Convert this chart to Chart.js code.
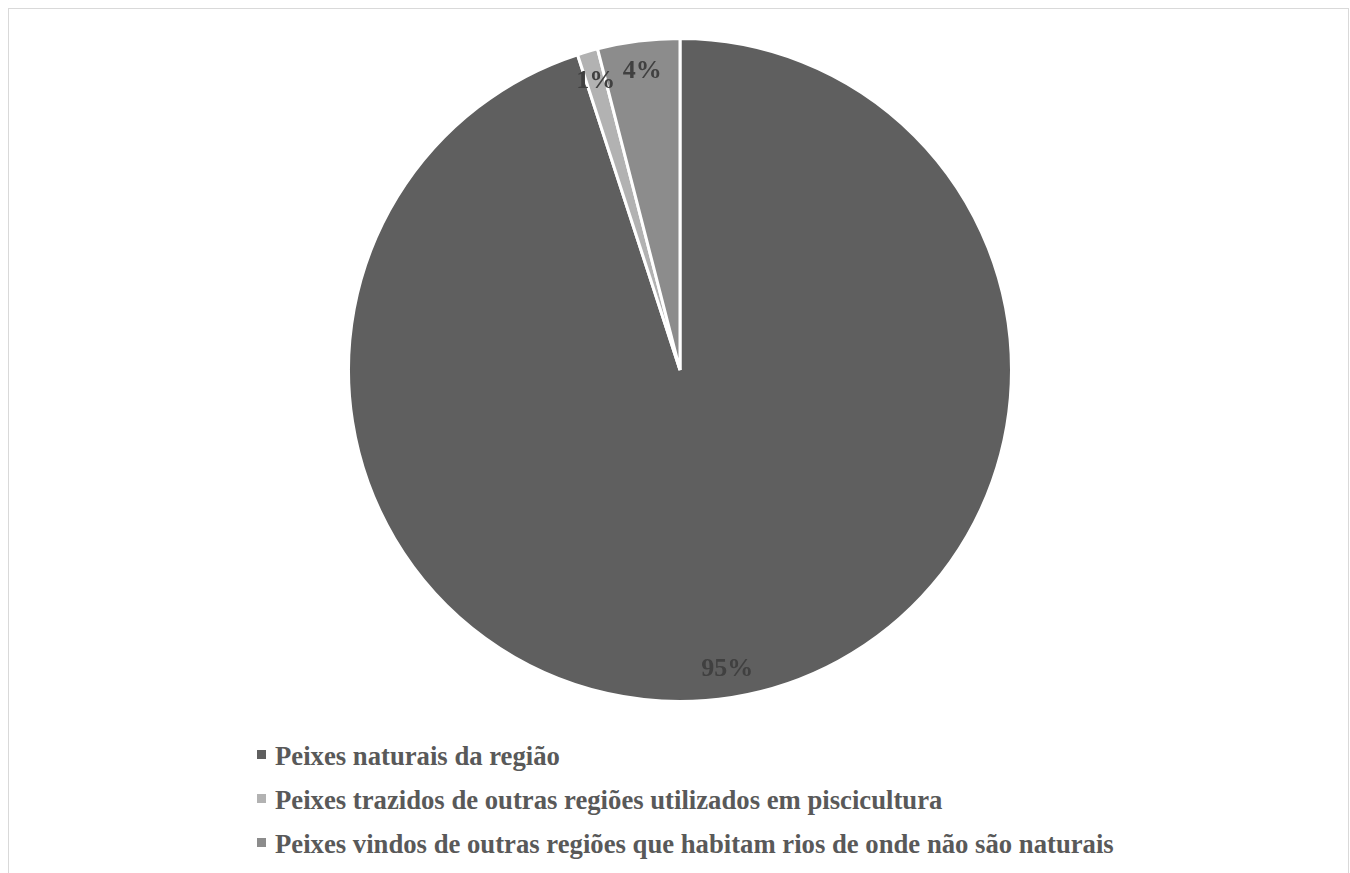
<!DOCTYPE html>
<html lang="pt">
<head>
    <meta charset="UTF-8">
    <title>Origem dos peixes</title>
    <script src="https://cdn.jsdelivr.net/npm/chart.js@4.4.1/dist/chart.umd.min.js"></script>
    <style>
        html, body { margin: 0; padding: 0; background: #fff; }
        body { width: 1350px; height: 873px; overflow: hidden; position: relative; }
        #frame {
            position: absolute; left: 8px; top: 8px; width: 1341px; height: 880px;
            border: 1px solid #d9d9d9; box-sizing: border-box;
        }
        #wrap { position: absolute; left: 8px; top: 8px; width: 1340px; height: 700px; }
        #legend {
            position: absolute; left: 257px; top: 734px;
            font-family: "Liberation Serif", "Times New Roman", serif;
            font-weight: bold; font-size: 26.7px; color: #595959;
        }
        #legend div {
            position: relative; height: 44px; line-height: 44px;
            padding-left: 18px; white-space: nowrap;
        }
        #legend span.box {
            position: absolute; left: 0; top: 16px; width: 9px; height: 9px;
        }
    </style>
</head>
<body>
    <div id="frame"></div>
    <div id="wrap"><canvas id="pieChart"></canvas></div>
    <div id="legend"></div>

    <script>
// dados
const categories = [
    'Peixes naturais da região',
    'Peixes trazidos de outras regiões utilizados em piscicultura',
    'Peixes vindos de outras regiões que habitam rios de onde não são naturais'
];
const percentages = [95, 1, 4];
const sliceColors = ['#5f5f5f', '#b2b2b2', '#8c8c8c'];

// rótulos dentro da fatia, perto da borda
const insideLabels = {
    id: 'insideLabels',
    afterDatasetsDraw(chart) {
        const ctx = chart.ctx;
        const meta = chart.getDatasetMeta(0);
        ctx.save();
        ctx.font = 'bold 26px "Liberation Serif", "Times New Roman", serif';
        ctx.fillStyle = '#404040';
        ctx.textAlign = 'center';
        ctx.textBaseline = 'middle';
        meta.data.forEach((arc, i) => {
            const p = arc.getProps(['x', 'y', 'startAngle', 'endAngle', 'outerRadius'], true);
            const mid = (p.startAngle + p.endAngle) / 2;
            const r = p.outerRadius * 0.91;
            ctx.fillText(percentages[i] + '%', p.x + Math.cos(mid) * r, p.y + Math.sin(mid) * r + 1);
        });
        ctx.restore();
    }
};

const chart = new Chart(document.getElementById('pieChart'), {
    type: 'pie',
    data: {
        labels: categories,
        datasets: [{
            data: percentages,
            backgroundColor: sliceColors,
            borderColor: '#ffffff',
            borderWidth: 3
        }]
    },
    options: {
        responsive: true,
        maintainAspectRatio: false,
        animation: false,
        layout: { padding: { top: 29, bottom: 5, left: 4 } },
        plugins: {
            legend: { display: false },
            tooltip: { enabled: false }
        }
    },
    plugins: [insideLabels]
});

// legenda em coluna
const legendEl = document.getElementById('legend');
chart.options.plugins.legend.labels.generateLabels(chart).forEach(item => {
    const row = document.createElement('div');
    row.innerHTML = `<span class="box" style="background:${item.fillStyle}"></span>${item.text}`;
    legendEl.appendChild(row);
});
    </script>
</body>
</html>
